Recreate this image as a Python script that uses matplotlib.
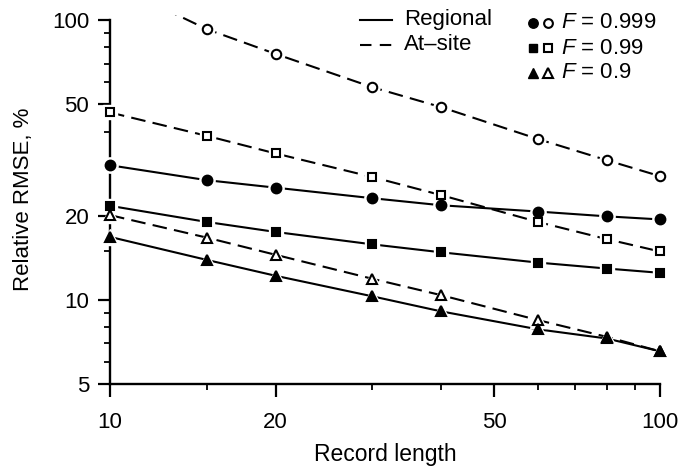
import matplotlib.pyplot as plt
from matplotlib.lines import Line2D
from matplotlib.ticker import FixedLocator, NullFormatter

plt.rcParams['font.family'] = ['Liberation Sans', 'DejaVu Sans']
plt.rcParams['mathtext.fontset'] = 'custom'
plt.rcParams['mathtext.it'] = 'Liberation Sans:italic'
plt.rcParams['mathtext.rm'] = 'Liberation Sans'

record_length = [10, 15, 20, 30, 40, 60, 80, 100]

# relative RMSE, %
regional_999 = [30.3, 26.8, 25.2, 23.1, 21.8, 20.7, 19.9, 19.4]
atsite_999 = [136, 92.9, 75.8, 57.6, 48.9, 37.6, 31.6, 27.7]
regional_99 = [21.7, 19.0, 17.5, 15.8, 14.8, 13.6, 12.95, 12.5]
atsite_99 = [46.8, 38.6, 33.4, 27.5, 23.7, 19.0, 16.5, 14.9]
regional_9 = [16.8, 13.9, 12.2, 10.3, 9.1, 7.85, 7.28, 6.55]
atsite_9 = [20.1, 16.7, 14.5, 11.9, 10.4, 8.47, 7.38, 6.55]

xticks = [10, 20, 50, 100]
xminor = [15, 30, 40, 60, 70, 80, 90]
yticks = [5, 10, 20, 50, 100]
yminor = [6, 7, 8, 9, 15, 30, 40, 60, 70, 80, 90]

fig = plt.figure(figsize=(6.79, 4.69), dpi=100)
ax = fig.add_axes([0.162, 0.181, 0.810, 0.786])

dash = (0, (7, 3.5))
# at-site first so regional (filled) markers sit on top where they overlap
series = [
    (atsite_999, dash, 'o', 'w', 6.8),
    (atsite_99, dash, 's', 'w', 5.8),
    (atsite_9, dash, '^', 'w', 7.8),
    (regional_999, '-', 'o', 'k', 7),
    (regional_99, '-', 's', 'k', 6.3),
    (regional_9, '-', '^', 'k', 7.8),
]
for vals, ls, m, fc, ms in series:
    ax.plot(record_length, vals, ls=ls, color='k', lw=1.5, zorder=2)
for vals, ls, m, fc, ms in series:
    ax.plot(record_length, vals, ls='none', marker=m, ms=ms + 4, mfc='w',
            mec='w', zorder=3, clip_on=False)
for vals, ls, m, fc, ms in series:
    ax.plot(record_length, vals, ls='none', marker=m, ms=ms, mfc=fc,
            mec='k', mew=1.5, zorder=4, clip_on=False)

ax.set_xscale('log')
ax.set_yscale('log')
ax.set_xlim(10, 100)
ax.set_ylim(5, 104)
ax.spines['top'].set_visible(False)
ax.spines['right'].set_visible(False)
ax.spines['left'].set_bounds(5, 100)
ax.spines['left'].set_linewidth(1.7)
ax.spines['bottom'].set_linewidth(1.7)

ax.xaxis.set_major_locator(FixedLocator(xticks))
ax.xaxis.set_minor_locator(FixedLocator(xminor))
ax.yaxis.set_major_locator(FixedLocator(yticks))
ax.yaxis.set_minor_locator(FixedLocator(yminor))
ax.set_xticklabels([str(v) for v in xticks])
ax.set_yticklabels([str(v) for v in yticks])
ax.xaxis.set_minor_formatter(NullFormatter())
ax.yaxis.set_minor_formatter(NullFormatter())
ax.tick_params(which='major', length=9, width=1.6, labelsize=16, direction='out')
ax.tick_params(which='minor', length=4.5, width=1.3, direction='out')
ax.tick_params(axis='x', which='major', pad=11)
ax.tick_params(axis='y', which='major', pad=6)

ax.set_xlabel('Record length', fontsize=16.5, labelpad=7)
ax.set_ylabel('Relative RMSE, %', fontsize=16, labelpad=13)

# legend, drawn by hand
W, H = 679, 469
def fx(px):
    return px / W
def fy(py):
    return 1 - py / H

fig.add_artist(Line2D([fx(360), fx(392)], [fy(20), fy(20)], color='k', lw=1.5))
fig.add_artist(Line2D([fx(360), fx(392)], [fy(45), fy(45)], color='k', lw=1.5,
                      ls=(0, (5.5, 4))))
fig.text(fx(404), fy(20), 'Regional', fontsize=16, va='center')
fig.text(fx(404), fy(45), 'At\u2013site', fontsize=16, va='center')

leg_rows = [('o', 6.8, '0.999', 23), ('s', 5.8, '0.99', 48), ('^', 7.8, '0.9', 73)]
for m, ms, label, py in leg_rows:
    fig.add_artist(Line2D([fx(533)], [fy(py)], marker=m, ms=ms, mfc='k', mec='k', ls='none'))
    fig.add_artist(Line2D([fx(548)], [fy(py)], marker=m, ms=ms - 0.5, mfc='w', mec='k',
                          mew=1.5, ls='none'))
    fig.text(fx(561), fy(py), r'$F$ = ' + label, fontsize=16, va='center')

fig.savefig('out.png', dpi=100)
